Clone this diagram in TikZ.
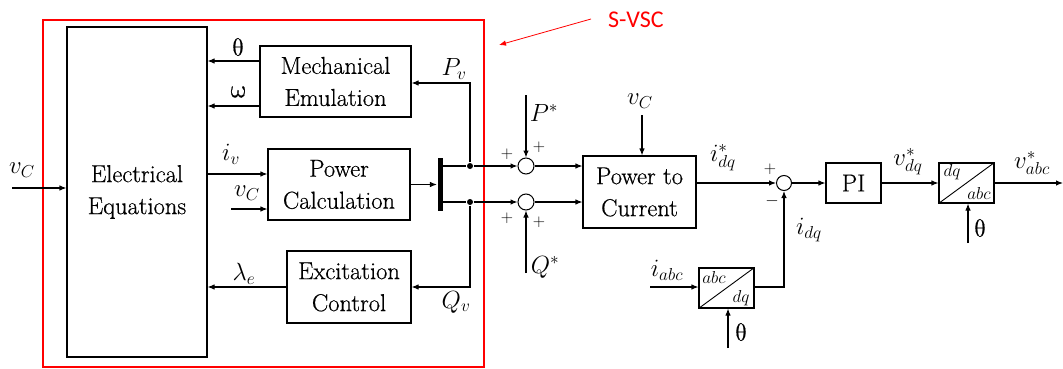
\documentclass[tikz,border=0pt]{standalone}
\usepackage{fontspec}
\newfontfamily\blkf{Latin Modern Roman}[FakeBold=0.5]
\newfontfamily\greekx{latinmodern-math.otf}[FakeBold=0.5]
\newfontfamily\calib{Carlito}
\usetikzlibrary{arrows.meta,calc}
\begin{document}
\begin{tikzpicture}[x=1pt,y=-1pt,
  line width=1.1pt,
  >={Latex[length=7pt,width=5.5pt]},
  blk/.style={draw,line width=1.1pt,inner sep=0pt,align=center,font=\blkf\fontsize{24.5}{32}\selectfont},
  sumc/.style={draw,circle,minimum size=16pt,inner sep=0pt,line width=1pt},
  lbl/.style={inner sep=0pt,font=\fontsize{26}{30}\selectfont},
  glbl/.style={inner sep=0pt,font=\greekx\fontsize{25}{30}\selectfont},
  sml/.style={inner sep=0pt,font=\fontsize{17}{18}\selectfont},
  tiny/.style={inner sep=0pt,font=\fontsize{18}{19}\selectfont},
  dotc/.style={circle,fill,inner sep=0pt,minimum size=6pt}]
\useasboundingbox (0,0) rectangle (1063,369);
% red frame
\draw[red,line width=1.8pt] (43,20) rectangle (484,367);
\node[text=red,inner sep=0pt,font=\calib\fontsize{24}{28}\selectfont] (svsc) at (636,20) {S-VSC};
\coordinate (arrs) at (591,19);
\coordinate (arre) at (499,45);
\draw[red,line width=0.8pt,->] (arrs) -- (arre);

% blocks
\node[blk,minimum width=140pt,minimum height=330pt] (EE) at (137,192) {Electrical\\Equations};
\node[blk,minimum width=151pt,minimum height=71pt] (ME) at (335.5,81.5) {Mechanical\\Emulation};
\node[blk,minimum width=142pt,minimum height=71pt] (PC) at (339,184.5) {Power\\Calculation};
\node[blk,minimum width=124pt,minimum height=72pt] (EC) at (349,287) {Excitation\\Control};
\node[fill,inner sep=0pt,minimum width=5pt,minimum height=53pt] (bar) at (440,184.5) {};
\node[dotc] (d1) at (470,166) {};
\node[dotc] (d2) at (470,202) {};
\node[sumc] (s1) at (526,166) {};
\node[sumc] (s2) at (526,202) {};
\node[blk,minimum width=113pt,minimum height=72pt] (PtC) at (639.5,192) {Power to\\Current};
\node[sumc,minimum size=15pt] (s3) at (784,183) {};
\node[blk,minimum width=55pt,minimum height=40pt] (PI) at (853.5,183) {PI};
\node[draw,line width=1.1pt,minimum width=55pt,minimum height=40pt,inner sep=0pt] (T1) at (966.5,183) {};
\node[draw,line width=1.1pt,minimum width=55pt,minimum height=40pt,inner sep=0pt] (T2) at (726.5,288) {};
\draw[line width=0.9pt] (T1.south west) -- (T1.north east);
\draw[line width=0.9pt] (T2.south west) -- (T2.north east);
\node[tiny] (t1a) at (952,172) {$dq$};
\node[tiny] (t1b) at (979,193) {$abc$};
\node[tiny] (t2a) at (714,277) {$abc$};
\node[tiny] (t2b) at (741,298) {$dq$};

% coordinates of free ends
\coordinate (vin) at (12,188);
\coordinate (vcin) at (231,209);
\coordinate (pst) at (526,95);
\coordinate (qst) at (526,273);
\coordinate (vct) at (642,115);
\coordinate (iabc) at (650,287);
\coordinate (th2) at (728,348);
\coordinate (th1) at (968,243);
\coordinate (vout) at (1063,183);

% connectors
\draw[->] (vin) -- (EE.west |- vin);
\draw[->] (ME.west |- 0,61) -- (EE.east |- 0,61);
\draw[->] (ME.west |- 0,106) -- (EE.east |- 0,106);
\draw[->] (EE.east |- 0,174) -- (PC.west |- 0,174);
\draw[->] (vcin) -- (PC.west |- vcin);
\draw[->] (PC.east) -- (bar.west);
\draw (bar.east |- d1) -- (d1);
\draw (bar.east |- d2) -- (d2);
\draw[->] (d1) -- (s1.west);
\draw[->] (d2) -- (s2.west);
\draw[->] (d1) |- (ME.east |- 0,83);
\draw[->] (d2) |- (EC.east);
\draw[->] (EC.west) -- (EE.east |- EC.west);
\draw[->] (pst) -- (s1.north);
\draw[->] (qst) -- (s2.south);
\draw[->] (s1.east) -- (PtC.west |- s1.east);
\draw[->] (s2.east) -- (PtC.west |- s2.east);
\draw[->] (vct) -- (PtC.north -| vct);
\draw[->] (PtC.east |- s3) -- (s3.west);
\draw[->] (iabc) -- (T2.west |- iabc);
\draw[->] (th2) -- (T2.south -| th2);
\draw[->] (T2.east |- iabc) -| (s3.south);
\draw[->] (s3.east) -- (PI.west);
\draw[->] (PI.east) -- (T1.west);
\draw[->] (th1) -- (T1.south -| th1);
\draw[->] (T1.east) -- (vout);

% labels
\node[lbl] (lvc1) at (22,170) {$v_C$};
\node[glbl] (lth1) at (238,47) {θ};
\node[glbl] (lom) at (238,92) {ω};
\node[lbl] (liv) at (231,154) {$i_v$};
\node[lbl] (lvc2) at (247,193) {$v_C$};
\node[lbl] (lle) at (244,274) {$\lambda_e$};
\node[lbl] (lpv) at (454,69) {$P_v$};
\node[lbl] (lqv) at (456,302) {$Q_v$};
\node[lbl] (lps) at (544,113) {$P^*$};
\node[lbl] (lqs) at (545,267) {$Q^*$};
\node[lbl] (lvc3) at (640,101) {$v_C$};
\node[lbl] (lids) at (723,158) {$i^*_{dq}$};
\node[lbl] (liabc) at (667,270) {$i_{abc}$};
\node[glbl] (lth2) at (741,332) {θ};
\node[lbl] (lidq) at (809,230) {$i_{dq}$};
\node[lbl] (lvdq) at (908,162) {$v^*_{dq}$};
\node[glbl] (lth3) at (980,228) {θ};
\node[lbl] (lvabc) at (1032,163) {$v^*_{abc}$};
% signs
\node[sml] (p1) at (507,154) {+};
\node[sml] (p2) at (539,147) {+};
\node[sml] (p3) at (507,218) {+};
\node[sml] (p4) at (539,222) {+};
\node[sml] (p5) at (770,169) {+};
\node[sml] (p6) at (772,201) {$-$};
\end{tikzpicture}
\end{document}
